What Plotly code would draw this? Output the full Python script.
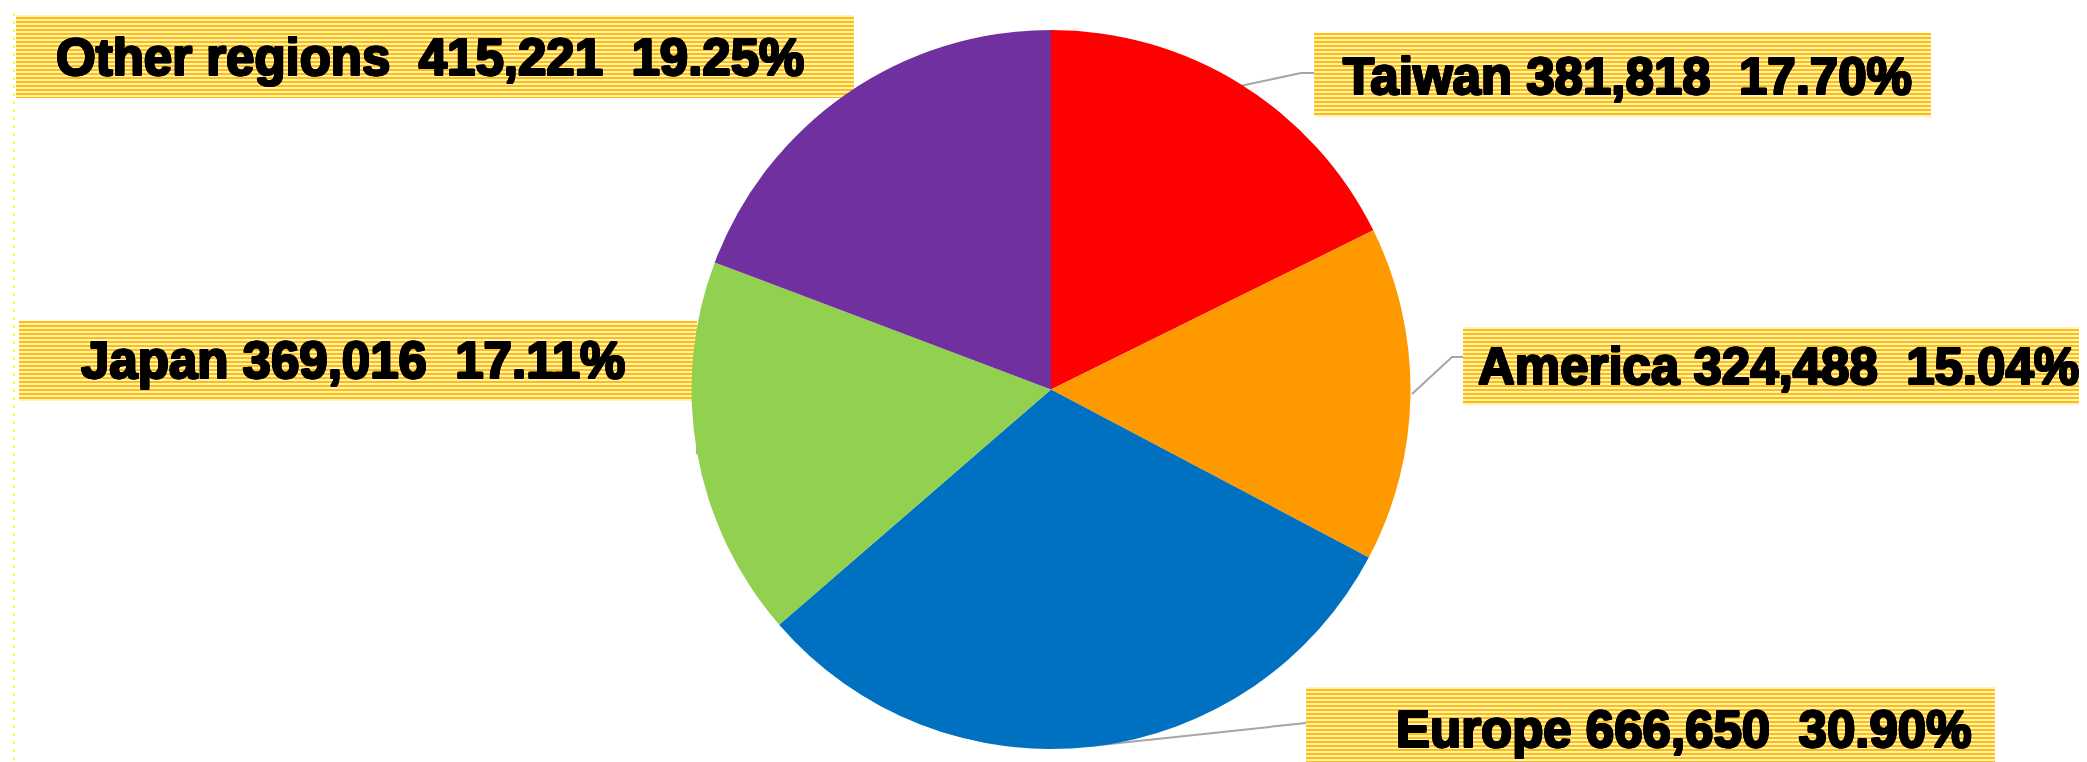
import plotly.graph_objects as go

# ---- data ----
regions = ["Taiwan", "America", "Europe", "Japan", "Other regions"]
counts = [381818, 324488, 666650, 369016, 415221]
slice_colors = ["#FF0000", "#FF9900", "#0070C0", "#92D050", "#7030A0"]

W, H = 2087, 762
total = sum(counts)

# pie geometry (pixels)
cx, cy, r = 1043, 381.5, 359.5

fig = go.Figure()

fig.add_trace(go.Pie(
    labels=regions, values=counts, sort=False, direction="clockwise", rotation=0,
    marker=dict(colors=slice_colors, line=dict(width=0)),
    textinfo="none", hoverinfo="label+value+percent", showlegend=False,
    domain=dict(x=[(cx - r) / W, (cx + r) / W], y=[1 - (cy + r) / H, 1 - (cy - r) / H]),
))

# label boxes (pixel layout): x0, y0, x1, y1, text-left x, text-center y
boxes = {
    "Other regions": (8, 7, 846, 90, 46, 49),
    "Taiwan": (1306, 25, 1923, 109, 1333, 68),
    "America": (1455, 319, 2080, 397, 1468, 358),
    "Europe": (1298, 679, 1987, 761, 1386, 721),
    "Japan": (11, 313, 689, 393, 71, 352),
}

bx, by = [], []
for name in regions:
    x0, y0, x1, y1, _, _ = boxes[name]
    bx += [x0, x1, x1, x0, x0, None]
    by += [y0, y0, y1, y1, y0, None]
fig.add_trace(go.Scatter(
    x=bx, y=by, mode="lines", fill="toself", line=dict(width=0, color="rgba(0,0,0,0)"),
    fillcolor="white",
    fillpattern=dict(shape="-", size=4, solidity=0.62, fgcolor="#FFC000", bgcolor="white", fillmode="replace"),
    hoverinfo="skip", showlegend=False, xaxis="x", yaxis="y",
))

# leader lines
leaders = [
    [(1232, 78), (1293, 65), (1306, 65)],
    [(1404, 386), (1444, 349), (1455, 349)],
    [(1083, 738), (1298, 715)],
    [(689, 446), (692, 343), (689, 343)],
    [(846, 88), (850, 93)],
]
lx, ly = [], []
for seg in leaders:
    for (px, py) in seg:
        lx.append(px); ly.append(py)
    lx.append(None); ly.append(None)
fig.add_trace(go.Scatter(x=lx, y=ly, mode="lines", line=dict(color="#A6A6A6", width=2),
                         hoverinfo="skip", showlegend=False))

NB = "\u00a0"
heavy = "1px 0 0 #000, -1px 0 0 #000, 0 1px 0 #000, 0 -1px 0 #000, 1px 1px 0 #000, -1px -1px 0 #000, 1px -1px 0 #000, -1px 1px 0 #000"
for name, val in zip(regions, counts):
    pct = val / total * 100
    sep = NB * 2 if name == "Other regions" else " "
    text = f"{name}{sep}{val:,}{NB*2}{pct:.2f}%"
    x0, y0, x1, y1, tx, ty = boxes[name]
    fig.add_annotation(x=tx, y=ty, xref="x", yref="y", text=text, showarrow=False,
                       xanchor="left", yanchor="middle",
                       font=dict(family="Liberation Sans", size=51, color="black",
                                 weight="bold", shadow=heavy))

# dotted yellow frame edges
for xx in (6, 2085):
    fig.add_shape(type="line", xref="x", yref="y", x0=xx, x1=xx, y0=6, y1=762,
                  line=dict(color="#FFFF00", width=2, dash="2px,6px"))

fig.update_layout(
    width=W, height=H, margin=dict(l=0, r=0, t=0, b=0),
    paper_bgcolor="white", plot_bgcolor="rgba(0,0,0,0)",
    xaxis=dict(range=[0, W], visible=False, domain=[0, 1], fixedrange=True),
    yaxis=dict(range=[H, 0], visible=False, domain=[0, 1], fixedrange=True),
)

fig.write_html("out.html")
